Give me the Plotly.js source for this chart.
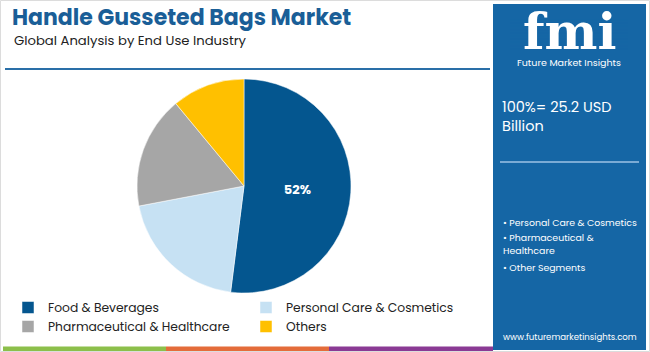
<!DOCTYPE html>
<html>
<head>
<meta charset="utf-8">
<script src="https://cdn.plot.ly/plotly-3.0.1.min.js"></script>
<style>html,body{margin:0;padding:0;background:#fff;}#chart{width:650px;height:352px;}</style>
</head>
<body>
<div id="chart"></div>
<script>
// Data
const categories = ["Food & Beverages", "Personal Care & Cosmetics", "Pharmaceutical & Healthcare", "Others"];
const shares = [52, 20, 17, 11];
const sliceLabels = ["52%", "", "", ""];
const colors = ["#04568f", "#c6e1f3", "#a6a6a6", "#ffc000"];
const titleText = "Handle Gusseted Bags Market";
const subtitleText = "Global Analysis by End Use Industry";
const totalText = "100%= 25.2 USD<br>Billion";
const otherSegments = ["• Personal Care & Cosmetics", "• Pharmaceutical &", "Healthcare", "• Other Segments"];
const website = "www.futuremarketinsights.com";

const W = 650, H = 352;
const px = x => x / W;
const py = y => 1 - y / H;

const font = "Poppins, 'Open Sans', Roboto, sans-serif";
const panel = "#1566a5";

const shapes = [
  {type:"rect", xref:"paper", yref:"paper", x0:px(0.5), x1:px(649.5), y0:py(0.5), y1:py(351.5), line:{color:"#dcdcdc", width:1}, fillcolor:"rgba(0,0,0,0)", layer:"below"},
  {type:"line", xref:"paper", yref:"paper", x0:px(5), x1:px(490), y0:py(69), y1:py(69), line:{color:"#2a6fa8", width:2}},
  {type:"rect", xref:"paper", yref:"paper", x0:px(493), x1:px(646), y0:py(4), y1:py(350), fillcolor:panel, line:{width:0}, layer:"below"},
  {type:"line", xref:"paper", yref:"paper", x0:px(500), x1:px(639), y0:py(162), y1:py(162), line:{color:"#9cc3e6", width:1.5}},
  {type:"rect", xref:"paper", yref:"paper", x0:px(3), x1:px(166), y0:py(346.5), y1:py(351), fillcolor:"#8cbf4a", line:{width:0}},
  {type:"rect", xref:"paper", yref:"paper", x0:px(166), x1:px(329), y0:py(346.5), y1:py(351), fillcolor:"#e46c3a", line:{width:0}},
  {type:"rect", xref:"paper", yref:"paper", x0:px(329), x1:px(493), y0:py(346.5), y1:py(351), fillcolor:"#8a3a94", line:{width:0}}
];
// logo stripes
for (let y = 20; y <= 52; y += 3.2) {
  shapes.push({type:"line", xref:"paper", yref:"paper", x0:px(510), x1:px(628), y0:py(y), y1:py(y), line:{color:panel, width:1}});
}

const annotations = [
  {text:subtitleText, xref:"paper", yref:"paper", x:px(12), y:py(40), xanchor:"left", yanchor:"middle", showarrow:false, font:{family:font, size:13.2, color:"#222"}},
  {text:"<b>fmi</b>", xref:"paper", yref:"paper", x:px(569), y:py(31), xanchor:"center", yanchor:"middle", showarrow:false, font:{family:"'DejaVu Serif', serif", size:50, color:"#ffffff"}},
  {text:"Future Market Insights", xref:"paper", yref:"paper", x:px(569), y:py(62), xanchor:"center", yanchor:"middle", showarrow:false, font:{family:font, size:9.5, color:"#ffffff"}},
  {text:totalText, xref:"paper", yref:"paper", x:px(500), y:py(116), xanchor:"left", yanchor:"middle", align:"left", showarrow:false, font:{family:font, size:14.5, color:"#ffffff"}},
  {text:website, xref:"paper", yref:"paper", x:px(570), y:py(337), xanchor:"center", yanchor:"middle", showarrow:false, font:{family:font, size:8.6, color:"#ffffff"}}
];
const segY = [222, 237, 251, 267];
otherSegments.forEach((t, i) => {
  annotations.push({text:t, xref:"paper", yref:"paper", x:px(501), y:py(segY[i]), xanchor:"left", yanchor:"middle", showarrow:false, font:{family:font, size:9.4, color:"#ffffff"}});
});

const data = [{
  type:"pie",
  labels:categories,
  values:shares,
  text:sliceLabels,
  textinfo:"text",
  textposition:"inside",
  insidetextfont:{family:font, size:13, color:"#ffffff", weight:"bold"},
  sort:false,
  direction:"clockwise",
  rotation:0,
  marker:{colors:colors, line:{color:"#ffffff", width:0.5}},
  domain:{x:[px(137), px(351)], y:[py(293), py(79)]},
  hoverinfo:"label+percent"
}];

const layout = {
  width:W, height:H,
  margin:{l:0, r:0, t:0, b:0},
  paper_bgcolor:"#ffffff",
  plot_bgcolor:"#ffffff",
  title:{text:"<b>" + titleText + "</b>", x:px(12), xanchor:"left", y:py(17), yanchor:"middle", font:{family:font, size:22, color:"#1a5e97"}},
  showlegend:true,
  legend:{orientation:"h", x:px(8), y:py(293), xanchor:"left", yanchor:"top", entrywidth:193, entrywidthmode:"pixels", font:{family:font, size:12.3, color:"#222"}, bgcolor:"rgba(0,0,0,0)", traceorder:"normal"},
  shapes:shapes,
  annotations:annotations
};

Plotly.newPlot("chart", data, layout, {displayModeBar:false, staticPlot:true});
</script>
</body>
</html>
